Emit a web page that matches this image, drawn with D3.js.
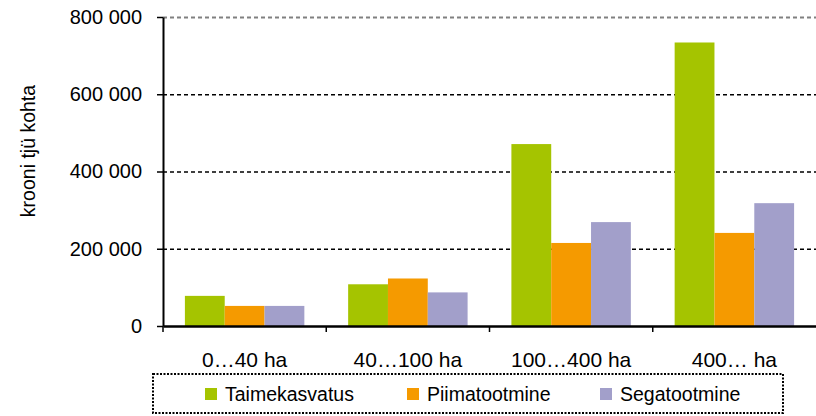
<!DOCTYPE html>
<html>
<head>
<meta charset="utf-8">
<script src="https://cdn.jsdelivr.net/npm/d3@7"></script>
<style>
  body { margin: 0; background: #fff; }
  svg { display: block; font-family: "Liberation Sans", Arial, sans-serif; }
</style>
</head>
<body>
<svg id="chart" width="816" height="416"></svg>
<script>
const categories = ['0…40 ha', '40…100 ha', '100…400 ha', '400… ha'];
const seriesNames = ['Taimekasvatus', 'Piimatootmine', 'Segatootmine'];
const taimekasvatus = [78000, 108000, 471000, 734000];
const piimatootmine = [52000, 123000, 215000, 241000];
const segatootmine = [52000, 87000, 269000, 318000];
const yTicks = [0, 200000, 400000, 600000, 800000];
const colors = ['#a5c400', '#f59a00', '#a29fca'];

const series = [taimekasvatus, piimatootmine, segatootmine];
const svg = d3.select('#chart');
const plotLeft = 163, plotRight = 816, plotTop = 17, plotBottom = 326;
const fontFamily = '"Liberation Sans", Arial, sans-serif';

const x = d3.scaleBand().domain(categories).range([plotLeft, plotRight]).paddingInner(0).paddingOuter(0);
const inner = d3.scaleBand().domain(seriesNames).range([0, x.bandwidth()]).paddingInner(0).paddingOuter(0.55);
const y = d3.scaleLinear().domain([0, 800000]).range([plotBottom, plotTop]);

const fmt = v => d3.format(',')(v).replace(/,/g, ' ');

// gridlines
svg.append('g').selectAll('line')
  .data(yTicks.filter(d => d > 0))
  .enter().append('line')
  .attr('x1', plotLeft).attr('x2', plotRight)
  .attr('y1', d => y(d) + 0.5).attr('y2', d => y(d) + 0.5)
  .attr('stroke', d => d === 800000 ? '#808080' : '#000')
  .attr('stroke-width', d => d === 800000 ? 2 : 1.3)
  .attr('stroke-dasharray', '4,3');

// bars
const groups = svg.append('g').selectAll('g')
  .data(categories)
  .enter().append('g')
  .attr('transform', d => `translate(${x(d)},0)`);
groups.selectAll('rect')
  .data((c, i) => seriesNames.map((s, j) => ({ s, v: series[j][i], j })))
  .enter().append('rect')
  .attr('x', d => inner(d.s))
  .attr('width', inner.bandwidth())
  .attr('y', d => y(d.v))
  .attr('height', d => y(0) - y(d.v))
  .attr('fill', d => colors[d.j]);

// y axis
const yAxis = d3.axisLeft(y).tickValues(yTicks).tickSize(6).tickSizeOuter(0).tickPadding(15).tickFormat(fmt);
const gy = svg.append('g').attr('transform', `translate(${plotLeft},0)`).call(yAxis);
gy.select('.domain').attr('stroke', '#000').attr('stroke-width', 2);
gy.selectAll('.tick line').attr('stroke', '#000').attr('stroke-width', 1.5);
gy.selectAll('.tick text').attr('font-size', 20).attr('fill', '#000').attr('font-family', fontFamily);

// x axis
const xAxis = d3.axisBottom(x).tickSize(0).tickPadding(26);
const gx = svg.append('g').attr('transform', `translate(0,${plotBottom})`).call(xAxis);
gx.select('.domain').attr('stroke', '#000').attr('stroke-width', 2.5);
gx.selectAll('.tick text').attr('font-size', 21).attr('fill', '#000').attr('font-family', fontFamily);
svg.append('g').selectAll('line')
  .data(categories)
  .enter().append('line')
  .attr('x1', d => x(d)).attr('x2', d => x(d))
  .attr('y1', plotBottom).attr('y2', plotBottom + 6)
  .attr('stroke', '#000').attr('stroke-width', 1.5);

// y title
svg.append('text')
  .attr('transform', 'translate(35,151) rotate(-90)')
  .attr('text-anchor', 'middle')
  .attr('font-size', 19.5)
  .text('krooni tjü kohta');

// legend
svg.append('rect')
  .attr('x', 153).attr('y', 374).attr('width', 630).attr('height', 39)
  .attr('fill', 'none').attr('stroke', '#000').attr('stroke-width', 2)
  .attr('stroke-dasharray', '2,1.5');
const legendX = [205, 407, 600];
const lg = svg.append('g').selectAll('g')
  .data(seriesNames)
  .enter().append('g')
  .attr('transform', (d, i) => `translate(${legendX[i]},388)`);
lg.append('rect').attr('width', 12).attr('height', 12).attr('fill', (d, i) => colors[i]);
lg.append('text').attr('x', 20).attr('y', 13).attr('font-size', 19.5).text(d => d);
</script>
</body>
</html>
